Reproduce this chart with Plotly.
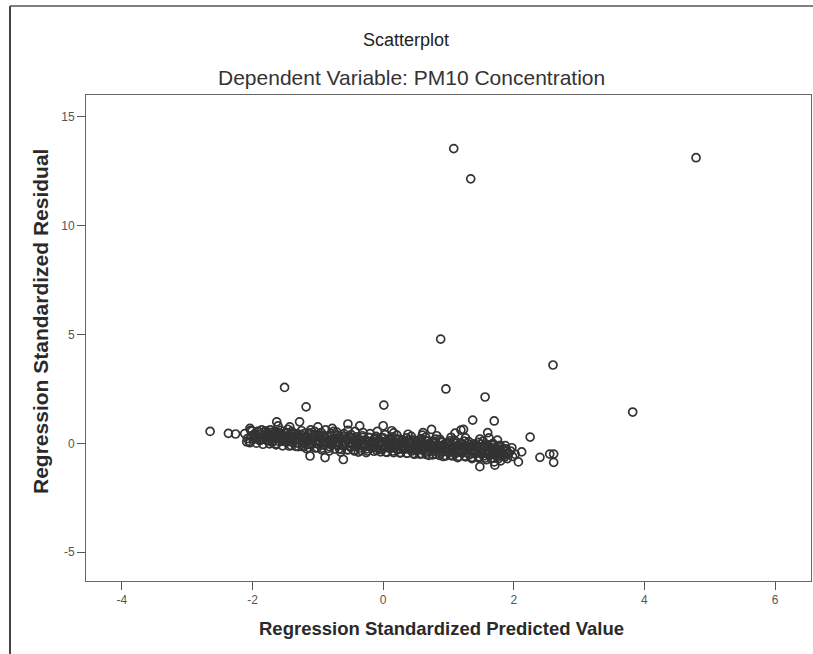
import plotly.graph_objects as go

# Dense band of residuals (predicted value, standardized residual)
band_pred = [
    -2.12, -2.08, -2.03, -2.05,
    -1.95, -1.92, -1.88, -1.90, -1.86, -1.97,
    -1.82, -1.78, -1.75, -1.80, -1.77, -1.84,
    -1.72, -1.68, -1.65, -1.70, -1.66, -1.73,
    -1.62, -1.58, -1.55, -1.60, -1.57, -1.53, -1.64,
    -1.52, -1.48, -1.45, -1.50, -1.46, -1.43, -1.41,
    -1.38, -1.36, -1.33, -1.40, -1.35, -1.31, -1.30,
    -1.28, -1.26, -1.23, -1.25, -1.21, -1.20,
    -1.18, -1.16, -1.13, -1.15, -1.11, -1.10, -1.17,
    -1.08, -1.06, -1.03, -1.05, -1.01, -1.00, -1.04,
    -0.98, -0.96, -0.93, -0.95, -0.91, -0.90, -0.94, -0.88,
    -0.86, -0.84, -0.82, -0.80, -0.78, -0.77, -0.83, -0.76,
    -0.74, -0.72, -0.70, -0.68, -0.67, -0.66, -0.71, -0.65,
    -0.63, -0.61, -0.59, -0.58, -0.56, -0.55, -0.60, -0.54,
    -0.52, -0.50, -0.48, -0.47, -0.45, -0.44, -0.49, -0.43,
    -0.41, -0.39, -0.37, -0.35, -0.34, -0.32, -0.38, -0.31,
    -0.29, -0.27, -0.25, -0.24, -0.22, -0.21, -0.26, -0.20,
    -0.18, -0.16, -0.14, -0.13, -0.11, -0.10, -0.15, -0.09,
    -0.07, -0.05, -0.03, -0.02, 0.00, 0.02, 0.03, 0.04, 0.05,
    0.07, 0.09, 0.11, 0.12, 0.14, 0.15, 0.10, 0.16,
    0.18, 0.20, 0.22, 0.23, 0.25, 0.26, 0.21, 0.27,
    0.29, 0.31, 0.33, 0.34, 0.36, 0.37, 0.32, 0.38,
    0.40, 0.42, 0.44, 0.45, 0.47, 0.48, 0.43, 0.49,
    0.51, 0.53, 0.55, 0.56, 0.58, 0.59, 0.54, 0.60,
    0.62, 0.64, 0.66, 0.67, 0.69, 0.70, 0.65, 0.71,
    0.73, 0.75, 0.77, 0.78, 0.80, 0.81, 0.76, 0.82,
    0.84, 0.86, 0.88, 0.89, 0.91, 0.92, 0.87, 0.93,
    0.95, 0.97, 0.99, 1.00, 1.02, 1.03, 0.98, 1.04,
    1.06, 1.08, 1.10, 1.11, 1.13, 1.14, 1.09, 1.15,
    1.17, 1.19, 1.21, 1.22, 1.24, 1.25, 1.20, 1.26,
    1.28, 1.30, 1.32, 1.33, 1.35, 1.36, 1.31, 1.37,
    1.39, 1.41, 1.43, 1.44, 1.46, 1.47, 1.42, 1.48,
    1.50, 1.52, 1.54, 1.55, 1.57, 1.58, 1.53, 1.59,
    1.61, 1.63, 1.65, 1.66, 1.68, 1.69, 1.64, 1.70, 1.62,
    1.72, 1.74, 1.76, 1.77, 1.79, 1.80, 1.75, 1.78,
    1.82, 1.85, 1.88, 1.90, 1.87, 1.92,
    1.95, 1.98, 2.02, 1.97,
]
band_resid = [
    0.45, 0.22, 0.60, 0.08,
    0.35, 0.55, 0.15, 0.42, 0.62, 0.25,
    0.30, 0.48, 0.12, 0.58, 0.38, 0.20,
    0.40, 0.22, 0.55, 0.05, 0.32, 0.62,
    0.28, 0.45, 0.10, 0.35, 0.60, 0.18, -0.02,
    0.30, 0.50, 0.08, 0.22, 0.65, 0.38, -0.10,
    0.25, 0.45, 0.02, 0.55, 0.15, 0.35, -0.15,
    0.20, 0.40, 0.05, 0.58, -0.12, 0.30,
    0.28, 0.10, 0.48, -0.05, 0.62, 0.18, -0.25,
    0.22, 0.40, 0.00, 0.55, -0.20, 0.12, 0.30,
    0.15, 0.35, -0.08, 0.50, 0.05, 0.25, -0.30, 0.62,
    0.10, 0.30, -0.15, 0.45, 0.02, 0.20, -0.35, 0.55,
    0.18, -0.05, 0.38, 0.08, -0.25, 0.28, 0.52, -0.40,
    0.12, -0.12, 0.32, 0.00, 0.22, -0.30, 0.45, 0.60,
    0.05, -0.18, 0.25, -0.05, 0.15, -0.35, 0.40, 0.55,
    0.02, 0.20, -0.22, 0.10, -0.08, 0.35, -0.40, 0.50,
    -0.05, 0.15, -0.25, 0.05, 0.28, -0.12, -0.42, 0.45,
    0.00, -0.20, 0.18, -0.08, 0.32, -0.32, 0.08, 0.55,
    -0.10, 0.10, -0.28, 0.02, 0.25, -0.15, 0.40, -0.40, 0.12,
    -0.05, -0.22, 0.15, -0.12, 0.30, -0.35, 0.05, 0.48,
    -0.18, 0.02, -0.30, 0.20, -0.08, -0.42, 0.38, 0.10,
    -0.12, -0.28, 0.08, -0.02, 0.25, -0.45, -0.18, 0.42,
    -0.22, 0.00, -0.35, 0.15, -0.10, -0.50, 0.32, 0.05,
    -0.15, -0.30, 0.05, -0.05, 0.22, -0.48, -0.20, 0.38,
    -0.25, -0.08, -0.40, 0.10, -0.15, -0.55, 0.28, 0.00,
    -0.20, -0.35, 0.02, -0.10, 0.20, -0.50, -0.25, 0.35,
    -0.28, -0.12, -0.45, 0.05, -0.20, -0.60, 0.18, -0.05,
    -0.22, -0.38, -0.02, -0.15, 0.12, -0.55, -0.30, 0.28,
    -0.30, -0.15, -0.48, 0.00, -0.22, -0.65, 0.15, -0.08,
    -0.25, -0.40, -0.05, -0.18, 0.10, -0.58, -0.32, 0.25,
    -0.35, -0.20, -0.52, -0.05, -0.28, -0.70, 0.08, -0.12,
    -0.30, -0.45, -0.10, -0.22, 0.05, -0.62, -0.38, 0.20,
    -0.40, -0.25, -0.58, -0.08, -0.32, -0.75, 0.10, -0.15,
    -0.35, -0.50, -0.18, -0.28, 0.00, -0.68, -0.42, -0.85, 0.25,
    -0.45, -0.30, -0.60, -0.12, -0.38, -0.80, 0.15, -0.52,
    -0.40, -0.55, -0.25, -0.70, -0.10, -0.45,
    -0.35, -0.60, -0.50, -0.20,
]

# Second pass over the dense core of the band
core_pred = [
    -2.04, -1.99, -2.02, -1.97, -2.01,
    -1.94, -1.89, -1.92, -1.87, -1.91,
    -1.84, -1.79, -1.82, -1.77, -1.81,
    -1.74, -1.69, -1.72, -1.67, -1.71,
    -1.64, -1.59, -1.62, -1.57, -1.61,
    -1.54, -1.49, -1.52, -1.47, -1.51,
    -1.44, -1.39, -1.42, -1.37, -1.41,
    -1.34, -1.29, -1.32, -1.27, -1.31,
    -1.24, -1.19, -1.22, -1.17, -1.21,
    -1.14, -1.09, -1.12, -1.07, -1.11,
    -1.04, -0.99, -1.02, -0.97, -1.01,
    -0.94, -0.89, -0.92, -0.87, -0.91,
    -0.84, -0.79, -0.82, -0.77, -0.81,
    -0.74, -0.69, -0.72, -0.67, -0.71,
    -0.64, -0.59, -0.62, -0.57, -0.61,
    -0.54, -0.49, -0.52, -0.47, -0.51,
    -0.44, -0.39, -0.42, -0.37, -0.41,
    -0.34, -0.29, -0.32, -0.27, -0.31,
    -0.24, -0.19, -0.22, -0.17, -0.21,
    -0.14, -0.09, -0.12, -0.07, -0.11,
    -0.04, 0.01, -0.02, 0.03, -0.01,
    0.06, 0.11, 0.08, 0.13, 0.09,
    0.16, 0.21, 0.18, 0.23, 0.19,
    0.26, 0.31, 0.28, 0.33, 0.29,
    0.36, 0.41, 0.38, 0.43, 0.39,
    0.46, 0.51, 0.48, 0.53, 0.49,
    0.56, 0.61, 0.58, 0.63, 0.59,
    0.66, 0.71, 0.68, 0.73, 0.69,
    0.76, 0.81, 0.78, 0.83, 0.79,
    0.86, 0.91, 0.88, 0.93, 0.89,
    0.96, 1.01, 0.98, 1.03, 0.99,
    1.06, 1.11, 1.08, 1.13, 1.09,
    1.16, 1.21, 1.18, 1.23, 1.19,
    1.26, 1.31, 1.28, 1.33, 1.29,
    1.36, 1.41, 1.38, 1.43, 1.39,
    1.46, 1.51, 1.48, 1.53, 1.49,
    1.56, 1.61, 1.58, 1.63, 1.59,
    1.66, 1.71, 1.68, 1.73, 1.69,
    1.76, 1.81, 1.78, 1.83, 1.79,
    1.86, 1.91, 1.89,
]
core_resid = [
    0.03, 0.19, 0.33, 0.44, 0.56,
    0.01, 0.13, 0.26, 0.41, 0.54,
    -0.04, 0.15, 0.30, 0.40, 0.52,
    -0.02, 0.11, 0.23, 0.38, 0.51,
    -0.07, 0.08, 0.22, 0.35, 0.49,
    -0.11, 0.07, 0.21, 0.34, 0.47,
    -0.12, 0.05, 0.19, 0.31, 0.46,
    -0.14, 0.02, 0.16, 0.30, 0.44,
    -0.15, 0.00, 0.15, 0.28, 0.45,
    -0.19, -0.03, 0.12, 0.27, 0.41,
    -0.21, -0.04, 0.10, 0.26, 0.39,
    -0.22, -0.06, 0.09, 0.23, 0.37,
    -0.23, -0.08, 0.07, 0.22, 0.36,
    -0.26, -0.09, 0.05, 0.20, 0.35,
    -0.28, -0.10, 0.03, 0.19, 0.33,
    -0.29, -0.14, 0.02, 0.16, 0.31,
    -0.31, -0.13, 0.00, 0.15, 0.30,
    -0.33, -0.17, -0.01, 0.13, 0.28,
    -0.35, -0.18, -0.04, 0.11, 0.26,
    -0.36, -0.21, -0.06, 0.10, 0.24,
    -0.39, -0.23, -0.08, 0.08, 0.22,
    -0.41, -0.24, -0.10, 0.06, 0.21,
    -0.42, -0.26, -0.11, 0.04, 0.19,
    -0.44, -0.28, -0.13, 0.03, 0.17,
    -0.46, -0.29, -0.15, 0.01, 0.16,
    -0.47, -0.32, -0.17, -0.01, 0.14,
    -0.49, -0.33, -0.19, -0.03, 0.12,
    -0.51, -0.35, -0.20, -0.04, 0.11,
    -0.53, -0.37, -0.22, -0.06, 0.09,
    -0.55, -0.39, -0.24, -0.08, 0.07,
    -0.57, -0.41, -0.26, -0.10, 0.05,
    -0.58, -0.42, -0.28, -0.12, 0.04,
    -0.60, -0.44, -0.29, -0.13, 0.02,
    -0.62, -0.46, -0.31, -0.15, 0.00,
    -0.64, -0.48, -0.33, -0.17, -0.02,
    -0.66, -0.50, -0.35, -0.19, -0.04,
    -0.67, -0.51, -0.37, -0.21, -0.05,
    -0.69, -0.53, -0.38, -0.22, -0.07,
    -0.71, -0.55, -0.40, -0.24, -0.09,
    -0.63, -0.49, -0.34,
]

# Scattered points around and away from the band
outlier_pred = [
    1.08, 1.34, 4.79, 0.88, 2.60, 0.96, 1.56, 3.82,
    -1.51, -1.18, 0.01, -2.65, -2.37, -2.26, 2.25, 1.37,
    1.70, 1.19, 2.40, 2.55, 2.61, 2.61, 2.12, 2.07,
    0.74, 0.61, 1.23, 1.10, 1.60, 1.48, 1.71, 0.00, 0.13,
    -2.09, -2.04, -1.63, -1.61, -1.28, -1.43, -1.12, -0.89,
    -0.61, -1.00, -0.78, -0.54, -0.36,
]
outlier_resid = [
    13.54, 12.15, 13.12, 4.79, 3.60, 2.50, 2.13, 1.44,
    2.57, 1.68, 1.76, 0.55, 0.46, 0.43, 0.29, 1.07,
    1.03, 0.61, -0.64, -0.49, -0.49, -0.87, -0.39, -0.85,
    0.64, 0.49, 0.64, 0.47, 0.49, -1.07, -1.00, 0.81, 0.58,
    0.07, 0.69, 0.99, 0.80, 0.99, 0.76, -0.58, -0.65,
    -0.74, 0.76, 0.69, 0.89, 0.80,
]

x_ticks = [-4, -2, 0, 2, 4, 6]
x_labels = ["-4", "-2", "0", "2", "4", "6"]
y_ticks = [-5, 0, 5, 10, 15]
y_labels = ["-5", "0", "5", "10", "15"]

FONT = "Liberation Sans, Arial, sans-serif"
marker = dict(symbol="circle-open", size=8, color="#333333", line=dict(width=1.7))

fig = go.Figure()
fig.add_trace(go.Scatter(x=band_pred + core_pred + outlier_pred,
                         y=band_resid + core_resid + outlier_resid,
                         mode="markers", marker=marker, showlegend=False,
                         hoverinfo="x+y"))

L, R, T, B = 86, 2, 95, 73
W, H = 813, 654
pw, ph = W - L - R, H - T - B

def px(xp):
    return (xp - L) / pw

def py(yp):
    return (H - B - yp) / ph

axis_common = dict(showgrid=False, zeroline=False, showline=True, mirror=True,
                   linecolor="#666", linewidth=1, ticks="outside", ticklen=8,
                   tickcolor="#555", tickwidth=1,
                   tickfont=dict(size=12, color="#555", family=FONT))

fig.update_layout(
    width=W, height=H,
    margin=dict(l=L, r=R, t=T, b=B),
    paper_bgcolor="white", plot_bgcolor="white",
    font=dict(family=FONT, color="#333"),
    xaxis=dict(range=[-4.55, 6.55], tickvals=x_ticks, ticktext=x_labels, **axis_common),
    yaxis=dict(range=[-6.32, 16.0], tickvals=y_ticks, ticktext=y_labels, **axis_common),
    annotations=[
        dict(text="Scatterplot", x=px(406), y=py(40), xref="paper", yref="paper",
             showarrow=False, font=dict(size=18, color="#222", family=FONT),
             xanchor="center", yanchor="middle"),
        dict(text="Dependent Variable: PM10 Concentration", x=px(411), y=py(77),
             xref="paper", yref="paper", showarrow=False,
             font=dict(size=21, color="#333", family=FONT),
             xanchor="center", yanchor="middle"),
        dict(text="<b>Regression Standardized Predicted Value</b>", x=px(441), y=py(628),
             xref="paper", yref="paper", showarrow=False,
             font=dict(size=18.5, color="#2a2a2a", family=FONT),
             xanchor="center", yanchor="middle"),
        dict(text="<b>Regression Standardized Residual</b>", x=px(40), y=py(322),
             xref="paper", yref="paper", showarrow=False, textangle=-90,
             font=dict(size=21, color="#2a2a2a", family=FONT),
             xanchor="center", yanchor="middle"),
    ],
    shapes=[
        dict(type="line", xref="paper", yref="paper", x0=px(10), x1=px(10),
             y0=py(6), y1=py(654), line=dict(color="#444", width=2)),
        dict(type="line", xref="paper", yref="paper", x0=px(10), x1=px(813),
             y0=py(6), y1=py(6), line=dict(color="#555", width=1.5)),
    ],
)

fig.write_html("out.html")
